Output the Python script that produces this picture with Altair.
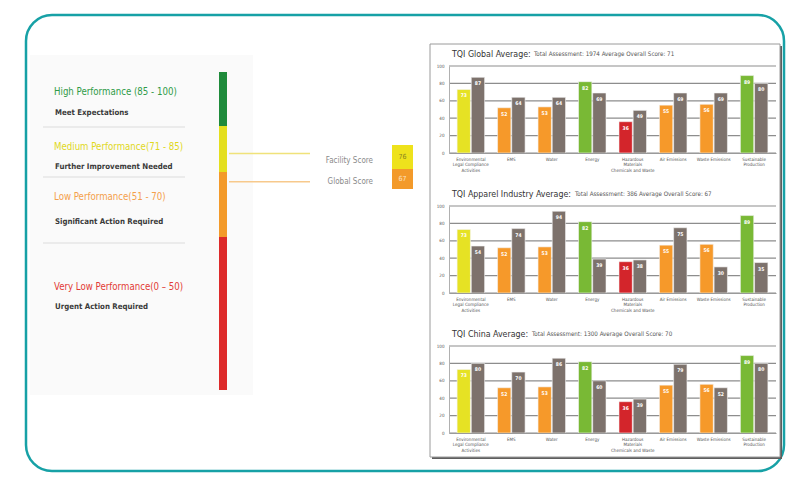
import altair as alt
import pandas as pd

NARROW = "Liberation Sans Narrow, DejaVu Sans Condensed, Roboto, sans-serif"

# ---------------- data ----------------
categories = [
    "Environmental\nLegal Compliance\nActivities",
    "EMS",
    "Water",
    "Energy",
    "Hazardous\nMaterials\nChemicals and Waste",
    "Air Emissions",
    "Waste Emissions",
    "Sustainable\nProduction",
]
facility_rating = ["Medium", "Low", "Low", "High", "Very Low", "Low", "Low", "High"]
facility_scores = [73, 52, 53, 82, 36, 55, 56, 89]
global_avg = [87, 64, 64, 69, 49, 69, 69, 80]
apparel_avg = [54, 74, 94, 39, 38, 75, 30, 35]
china_avg = [80, 70, 86, 60, 39, 79, 52, 80]
y_ticks = [0, 20, 40, 60, 80, 100]

panel_titles = ["TQI Global Average:", "TQI Apparel Industry Average:", "TQI China Average:"]
panel_notes = [
    "Total Assessment: 1974      Average Overall Score: 71",
    "Total Assessment: 386      Average Overall Score: 67",
    "Total Assessment: 1300      Average Overall Score: 70",
]

levels = [
    "High Performance (85 - 100)",
    "Medium Performance(71 - 85)",
    "Low Performance(51 - 70)",
    "Very Low Performance(0 – 50)",
]
actions = [
    "Meet Expectations",
    "Further Improvement Needed",
    "Significant Action Required",
    "Urgent Action Required",
]
band_names = ["High", "Medium", "Low", "Very Low"]
band_lo = [85, 70, 50, 0]
band_hi = [100, 85, 70, 50]

score_names = ["Facility Score", "Global Score"]
score_values = [76, 67]

# ---------------- styles ----------------
band_colors = ["#1f8b3b", "#e4df1e", "#f39a2a", "#dd2a2a"]
level_text_colors = ["#2f9a48", "#e0d81c", "#f4a04a", "#e23a36"]
rating_domain = ["High", "Medium", "Low", "Very Low", "Average"]
rating_colors = ["#79b935", "#e6e224", "#f6992a", "#d3252b", "#7d726c"]

# piecewise scale for the colour bar (coordinates relative to first panel)
score_scale = alt.Scale(type="linear", domain=[0, 50, 70, 85, 100],
                        range=[324, 171, 106, 60, 6], nice=False, zero=False)

one = pd.DataFrame({"a": [0]})

# ---------------- frame + legend (drawn behind the first panel) ----------------
deco = []
deco.append(alt.Chart(one).mark_rect(fill="white", stroke="#17a1a6", strokeWidth=2.5,
                                     cornerRadius=26).encode(
    x=alt.value(-423), x2=alt.value(335), y=alt.value(-51), y2=alt.value(405)))
deco.append(alt.Chart(one).mark_rect(fill="#fafafa").encode(
    x=alt.value(-419), x2=alt.value(-196), y=alt.value(-11), y2=alt.value(329)))
deco.append(alt.Chart(one).mark_rect(fill="#5e5e5e").encode(
    x=alt.value(-17), x2=alt.value(333), y=alt.value(-20), y2=alt.value(393)))
deco.append(alt.Chart(one).mark_rect(fill="white", stroke="#9a9a9a", strokeWidth=1).encode(
    x=alt.value(-19), x2=alt.value(331), y=alt.value(-22), y2=alt.value(391)))

for sy in [61, 111, 177]:
    deco.append(alt.Chart(one).mark_rule(color="#ebebeb", strokeWidth=2).encode(
        x=alt.value(-406), x2=alt.value(-264), y=alt.value(sy)))

level_y = [26, 81, 131, 221]
action_y = [47, 101, 156, 241]
for i in range(4):
    deco.append(alt.Chart(pd.DataFrame({"t": [levels[i]]})).mark_text(
        align="left", baseline="middle", font=NARROW, fontSize=9.6,
        color=level_text_colors[i]).encode(x=alt.value(-395), y=alt.value(level_y[i]), text="t:N"))
    deco.append(alt.Chart(pd.DataFrame({"t": [actions[i]]})).mark_text(
        align="left", baseline="middle", font=NARROW, fontSize=7.8, fontWeight="bold",
        color="#3a3a3a").encode(x=alt.value(-394), y=alt.value(action_y[i]), text="t:N"))

bands = pd.DataFrame({"band": band_names, "lo": band_lo, "hi": band_hi})
deco.append(alt.Chart(bands).mark_rect().encode(
    x=alt.value(-230), x2=alt.value(-222),
    y=alt.Y("lo:Q", scale=score_scale, axis=None), y2="hi:Q",
    color=alt.Color("band:N", scale=alt.Scale(domain=band_names, range=band_colors), legend=None)))

scores = pd.DataFrame({"name": score_names, "score": score_values})
deco.append(alt.Chart(scores).mark_rule(strokeWidth=1.5).encode(
    x=alt.value(-220), x2=alt.value(-139),
    y=alt.Y("score:Q", scale=score_scale, axis=None),
    color=alt.Color("name:N", scale=alt.Scale(domain=score_names, range=["#f0e27a", "#f7c98c"]),
                    legend=None)))

for name, dy in zip(score_names, [7, 0]):
    deco.append(alt.Chart(scores).transform_filter(alt.datum.name == name).mark_text(
        align="right", baseline="middle", font=NARROW, fontSize=8, color="#8a8a8a", dy=dy).encode(
        x=alt.value(-76), y=alt.Y("score:Q", scale=score_scale, axis=None), text="name:N"))

box_y = [(79, 103), (103, 123)]
box_fill = ["#eee21c", "#f39a2a"]
box_txt = ["#8a8420", "#fde2c2"]
for i, name in enumerate(score_names):
    deco.append(alt.Chart(scores).transform_filter(alt.datum.name == name).mark_rect(
        fill=box_fill[i]).encode(x=alt.value(-57), x2=alt.value(-36),
                                 y=alt.value(box_y[i][0]), y2=alt.value(box_y[i][1])))
    deco.append(alt.Chart(scores).transform_filter(alt.datum.name == name).mark_text(
        align="center", baseline="middle", font=NARROW, fontSize=7, color=box_txt[i]).encode(
        x=alt.value(-46.5), y=alt.value((box_y[i][0] + box_y[i][1]) / 2), text="score:Q"))


# ---------------- three grouped bar charts ----------------
def panel_layers(avg, title, note, note_x):
    df = pd.DataFrame({
        "category": categories * 2,
        "series": ["Facility"] * 8 + ["Average"] * 8,
        "rating": facility_rating + ["Average"] * 8,
        "value": facility_scores + avg,
    })
    xenc = alt.X("category:N", sort=categories,
                 scale=alt.Scale(paddingInner=0.32, paddingOuter=0.2),
                 axis=alt.Axis(title=None, labelAngle=0, labelExpr="split(datum.label, '\\n')",
                               labelFontSize=4.5, labelColor="#555", labelFont=NARROW,
                               ticks=False, domainColor="#9a9a9a", labelPadding=3,
                               labelLineHeight=5.5, zindex=1))
    xoff = alt.XOffset("series:N", sort=["Facility", "Average"], scale=alt.Scale(paddingInner=0.06))
    ysc = alt.Scale(domain=[0, 100])
    grid = alt.Chart(pd.DataFrame({"tick": y_ticks})).mark_rule(
        color="#8d8d8d", strokeWidth=1.2).encode(y=alt.Y("tick:Q", scale=ysc, axis=None))
    bars = alt.Chart(df).mark_bar(stroke="#f4f4f4", strokeWidth=0.6).encode(
        x=xenc, xOffset=xoff,
        y=alt.Y("value:Q", scale=ysc,
                axis=alt.Axis(title=None, values=y_ticks, grid=False, labelFontSize=4.5,
                              labelColor="#555", labelFont=NARROW, domainColor="#b0b0b0",
                              ticks=False, labelPadding=5, zindex=1)),
        color=alt.Color("rating:N", scale=alt.Scale(domain=rating_domain, range=rating_colors),
                        legend=None))
    vals = alt.Chart(df).mark_text(baseline="top", dy=4, fontSize=5, fontWeight="bold",
                                   color="white", font=NARROW).encode(
        x=xenc, xOffset=xoff, y=alt.Y("value:Q", scale=ysc, axis=None), text="value:Q")
    t1 = alt.Chart(pd.DataFrame({"t": [title]})).mark_text(
        align="left", baseline="middle", font=NARROW, fontSize=8.8, color="#333").encode(
        x=alt.value(3), y=alt.value(-12), text="t:N")
    t2 = alt.Chart(pd.DataFrame({"t": [note]})).mark_text(
        align="left", baseline="middle", font=NARROW, fontSize=6.2, color="#555").encode(
        x=alt.value(note_x), y=alt.value(-12), text="t:N")
    return [grid, bars, vals, t1, t2]


p1 = alt.layer(*deco, *panel_layers(global_avg, panel_titles[0], panel_notes[0], 85)).resolve_scale(
    y="independent", color="independent").properties(width=327, height=87)
p2 = alt.layer(*panel_layers(apparel_avg, panel_titles[1], panel_notes[1], 126)).resolve_scale(
    y="independent").properties(width=327, height=87)
p3 = alt.layer(*panel_layers(china_avg, panel_titles[2], panel_notes[2], 83)).resolve_scale(
    y="independent").properties(width=327, height=87)

chart = alt.vconcat(p1, p2, p3, spacing=53, bounds="flush").properties(
    padding={"left": 16, "top": 5, "right": 0, "bottom": 0},
    background="white",
).configure_view(stroke="transparent")

chart.save("out.html", embed_options={"renderer": "svg", "actions": False})
